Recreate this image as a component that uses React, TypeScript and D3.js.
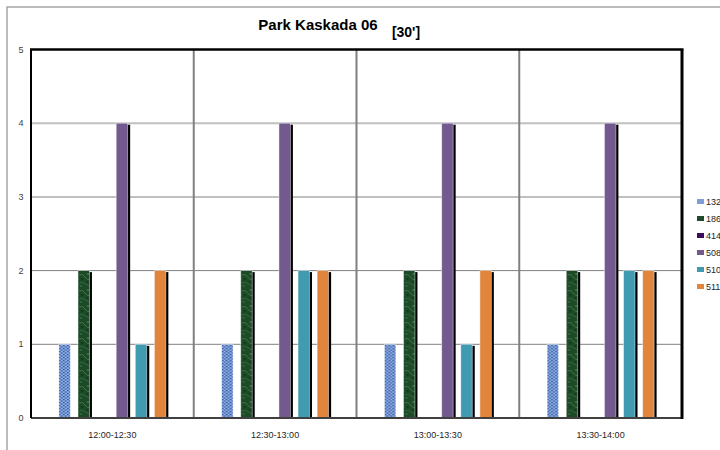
import { useEffect } from "react";
import * as d3 from "d3";

const categories = ["12:00-12:30", "12:30-13:00", "13:00-13:30", "13:30-14:00"];
const seriesNames = ["132", "186", "414", "508", "510", "511"];
const s132 = [1, 1, 1, 1];
const s186 = [2, 2, 2, 2];
const s414 = [0, 0, 0, 0];
const s508 = [4, 4, 4, 4];
const s510 = [1, 2, 1, 2];
const s511 = [2, 2, 2, 2];
const yTicks = [0, 1, 2, 3, 4, 5];

const seriesValues = [s132, s186, s414, s508, s510, s511];
const fills = ["url(#pat132)", "url(#pat186)", "#3b0c5c", "#725a8f", "#409bb0", "#e0853b"];
const swatch = ["#7d9fd6", "#1f4b2a", "#3b0c5c", "#725a8f", "#409bb0", "#e0853b"];
const shadowed = [false, true, true, true, true, true];

const W = 720;
const H = 450;
const left = 31;
const right = 682;
const top = 49.5;
const bottom = 418;

export default function App() {
  useEffect(() => {
    document.body.style.margin = "0";
  }, []);

  const x0 = d3.scaleBand<string>().domain(categories).range([left, right]).padding(0);
  const x1 = d3
    .scaleBand<string>()
    .domain(seriesNames)
    .range([0, x0.bandwidth()])
    .paddingInner(0.4)
    .paddingOuter(1.46);
  const y = d3.scaleLinear().domain([0, 5]).range([bottom, top]);

  const font = "'Liberation Sans', Arial, sans-serif";

  return (
    <svg width={W} height={H} style={{ display: "block", background: "#fff" }}>
      <defs>
        <pattern id="pat132" width="4" height="3" patternUnits="userSpaceOnUse">
          <rect width="4" height="3" fill="#6f93d2" />
          <rect x="0" y="0" width="1.5" height="1" fill="#34599f" />
          <rect x="2" y="1.5" width="1.5" height="1" fill="#3d63ab" />
          <rect x="2.4" y="0.2" width="1" height="0.9" fill="#c9d8f2" />
          <rect x="0.3" y="1.8" width="1" height="0.9" fill="#a9c1ea" />
        </pattern>
        <pattern id="pat186" width="12" height="16" patternUnits="userSpaceOnUse">
          <rect width="12" height="16" fill="#1d4a27" />
          <path d="M0 3 Q4 1 6 5 T12 7" stroke="#3f7b4b" strokeWidth="0.9" fill="none" />
          <path d="M0 11 Q3 9 7 12 T12 13" stroke="#356e41" strokeWidth="0.8" fill="none" />
          <circle cx="3" cy="7" r="1" fill="#12351a" />
          <circle cx="9" cy="2" r="0.9" fill="#4d8a58" />
          <circle cx="8" cy="10" r="1.1" fill="#143a1d" />
          <circle cx="2" cy="14" r="0.8" fill="#4a8655" />
        </pattern>
        <clipPath id="plotClip">
          <rect x={left} y={top - 5} width={right - left} height={bottom - top + 5} />
        </clipPath>
      </defs>

      {/* outer chart area border */}
      <rect x={7} y={7} width={W} height={H} fill="none" stroke="#a6a6a6" strokeWidth={1.5} />

      {/* title */}
      <text x={318} y={30} textAnchor="middle" fontFamily={font} fontWeight="bold" fontSize={15} fill="#000">
        Park Kaskada 06
      </text>
      <text x={406} y={37} textAnchor="middle" fontFamily={font} fontWeight="bold" fontSize={14} fill="#000">
        [30']
      </text>

      {/* horizontal gridlines */}
      {yTicks.slice(1, 5).map((t) => (
        <line
          key={t}
          x1={left}
          x2={right}
          y1={y(t)}
          y2={y(t)}
          stroke={t >= 3 ? "#c0c0c0" : "#808080"}
          strokeWidth={t >= 3 ? 2 : 1}
        />
      ))}

      {/* category dividers */}
      {categories.slice(1).map((c) => (
        <line key={c} x1={x0(c)} x2={x0(c)} y1={top} y2={bottom} stroke="#808080" strokeWidth={2} />
      ))}

      {/* bars */}
      <g clipPath="url(#plotClip)">
        {categories.map((c, ci) => (
          <g key={c} transform={`translate(${x0(c)},0)`}>
            {seriesNames.map((s, si) => {
              const v = seriesValues[si][ci];
              if (!v) return null;
              const bx = x1(s)!;
              const bw = x1.bandwidth();
              const by = y(v);
              const bh = y(0) - y(v);
              return (
                <g key={s}>
                  {shadowed[si] && (
                    <rect x={bx + 2.5} y={by + 1.5} width={bw} height={bh} fill="#000" />
                  )}
                  <rect
                    x={bx}
                    y={by}
                    width={bw}
                    height={bh}
                    fill={fills[si]}
                    stroke="#ffffff"
                    strokeOpacity={0.55}
                    strokeWidth={0.8}
                  />
                </g>
              );
            })}
          </g>
        ))}
      </g>

      {/* plot border */}
      <line x1={left} x2={right} y1={bottom} y2={bottom} stroke="#404040" strokeWidth={2} />
      <line x1={left - 1} x2={right + 1.5} y1={top} y2={top} stroke="#000" strokeWidth={2.5} />
      <line x1={left} x2={left} y1={top} y2={bottom} stroke="#000" strokeWidth={2} />
      <line x1={right} x2={right} y1={top} y2={bottom + 1} stroke="#000" strokeWidth={3} />

      {/* y tick labels */}
      {yTicks.map((t) => (
        <text
          key={t}
          x={21}
          y={y(t)}
          dy="0.35em"
          textAnchor="middle"
          fontFamily={font}
          fontSize={9}
          fill="#404040"
        >
          {t}
        </text>
      ))}

      {/* x labels */}
      {categories.map((c) => (
        <text
          key={c}
          x={x0(c)! + x0.bandwidth() / 2}
          y={438}
          textAnchor="middle"
          fontFamily={font}
          fontSize={9}
          fill="#262626"
        >
          {c}
        </text>
      ))}

      {/* legend */}
      {seriesNames.map((s, i) => (
        <g key={s} transform={`translate(697,${202 + i * 17})`}>
          <rect x={0} y={-3} width={7} height={5} fill={swatch[i]} />
          <text x={9} y={0} dy="0.35em" fontFamily={font} fontSize={9} fill="#262626">
            {s}
          </text>
        </g>
      ))}
    </svg>
  );
}
